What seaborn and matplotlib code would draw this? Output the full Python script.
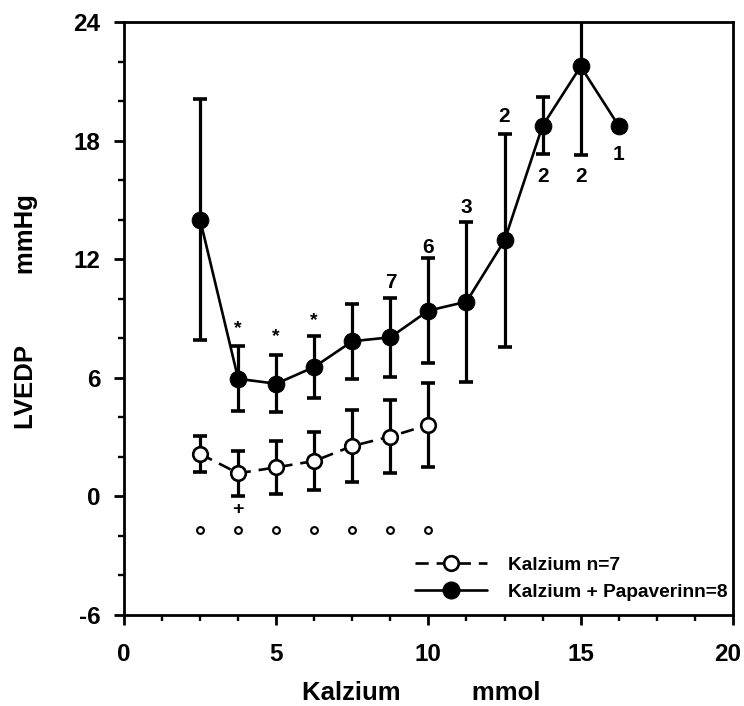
import numpy as np
import pandas as pd
import seaborn as sns
import matplotlib
matplotlib.use("Agg")
import matplotlib.pyplot as plt
import matplotlib.transforms as mtransforms
from matplotlib.lines import Line2D
from matplotlib import font_manager

# ---- data ----
x_kal = [2.5, 3.75, 5.0, 6.25, 7.5, 8.75, 10.0]
y_kal = [2.15, 1.17, 1.47, 1.79, 2.55, 3.03, 3.62]
sd_kal = [0.9, 1.15, 1.35, 1.45, 1.8, 1.87, 2.12]

x_pap = [2.5, 3.75, 5.0, 6.25, 7.5, 8.75, 10.0, 11.25, 12.5, 13.75, 15.0, 16.25]
y_pap = [14.0, 5.95, 5.7, 6.55, 7.85, 8.05, 9.4, 9.85, 12.95, 18.75, 21.75, 18.75]
sd_pap = [6.1, 1.65, 1.45, 1.55, 1.9, 2.0, 2.65, 4.05, 5.4, 1.45, 4.47, np.nan]

sig_x = [2.5, 3.75, 5.0, 6.25, 7.5, 8.75, 10.0]
sig_y = [-1.7] * 7
plus_x, plus_y = [3.75], [-0.68]
star_x = [3.75, 5.0, 6.25]
star_y = [8.5, 8.1, 8.9]
n_labels = ["7", "6", "3", "2", "2", "2", "1"]
n_x = [8.75, 10.0, 11.25, 12.5, 13.75, 15.0, 16.25]
n_y = [10.8, 12.6, 14.6, 19.2, 16.2, 16.2, 17.3]

legend_labels = ["Kalzium n=7", "Kalzium + Papaverinn=8"]
xticks = [0, 5, 10, 15, 20]
yticks = [-6, 0, 6, 12, 18, 24]

df_kal = pd.DataFrame({"x": x_kal, "y": y_kal, "sd": sd_kal})
df_pap = pd.DataFrame({"x": x_pap, "y": y_pap, "sd": sd_pap})

sns.set_theme(style="ticks")
fam = ["Liberation Sans", "DejaVu Sans"]
plt.rcParams["font.family"] = fam
plt.rcParams["font.weight"] = "bold"
plt.rcParams["axes.unicode_minus"] = False
plt.rcParams["text.color"] = "black"
plt.rcParams["axes.labelcolor"] = "black"

fig = plt.figure(figsize=(7.44, 7.06), dpi=100)
ax = fig.add_axes([0.1667, 0.1289, 0.8183, 0.8399])

lw = 1.9
dash = (0, (5.0, 3.0))
ax.errorbar(df_pap["x"], df_pap["y"], yerr=df_pap["sd"], fmt="none", ecolor="black",
            elinewidth=2.3, capsize=5, capthick=2.6, zorder=2)
ax.errorbar(df_kal["x"], df_kal["y"], yerr=df_kal["sd"], fmt="none", ecolor="black",
            elinewidth=2.3, capsize=5, capthick=2.6, zorder=2)

sns.lineplot(data=df_pap, x="x", y="y", ax=ax, color="black", lw=lw, marker="o",
             markersize=12, markerfacecolor="black", markeredgecolor="black", zorder=3)
sns.lineplot(data=df_kal, x="x", y="y", ax=ax, color="black", lw=lw, marker="o",
             markersize=10.5, markerfacecolor="white", markeredgecolor="black",
             markeredgewidth=1.9, linestyle=dash, zorder=3)

sns.scatterplot(x=sig_x, y=sig_y, ax=ax, s=24, facecolor="white", edgecolor="black",
                linewidth=1.5, zorder=3)
for xx, yy in zip(plus_x, plus_y):
    ax.text(xx, yy, "+", ha="center", va="center", fontsize=14, fontweight="bold")
for xx, yy in zip(star_x, star_y):
    ax.text(xx, yy, "*", ha="center", va="center", fontsize=14, fontweight="bold")
for t, xx, yy in zip(n_labels, n_x, n_y):
    ax.text(xx, yy, t, ha="center", va="center", fontsize=15, fontweight="bold")

ax.set_xlim(0, 20)
ax.set_ylim(-6, 24)
ax.set_xticks(xticks)
ax.set_yticks(yticks)
ax.set_xticks(np.arange(0, 20.01, 1.25), minor=True)
ax.set_yticks(np.arange(-6, 24.01, 2), minor=True)
ax.tick_params(axis="both", which="major", direction="out", length=7, width=2.0,
               labelsize=17.5, colors="black")
ax.tick_params(axis="x", which="major", pad=13)
ax.tick_params(axis="y", which="major", pad=10)
ax.tick_params(axis="both", which="minor", direction="out", length=4.5, width=1.7,
               colors="black")
for lab in ax.get_xticklabels() + ax.get_yticklabels():
    lab.set_fontweight("bold")
# keep the last x tick label inside the canvas
last = ax.get_xticklabels()[-1]
last.set_transform(last.get_transform() +
                   mtransforms.ScaledTranslation(-5 / 100, 0, fig.dpi_scale_trans))
for sp in ax.spines.values():
    sp.set_visible(True)
    sp.set_linewidth(2.0)
    sp.set_color("black")

ax.set_xlabel("Kalzium          mmol", fontsize=18.5, fontweight="bold", color="black")
ax.set_ylabel("LVEDP          mmHg", fontsize=18.5, fontweight="bold", color="black")
ax.xaxis.label.set_va("center")
ax.yaxis.label.set_va("center")
ax.xaxis.set_label_coords(0.488, -0.131)
ax.yaxis.set_label_coords(-0.161, 0.511)

handles = [
    Line2D([], [], color="black", lw=lw, linestyle=dash, marker="o",
           markersize=10.5, markerfacecolor="white", markeredgecolor="black", markeredgewidth=1.9),
    Line2D([], [], color="black", lw=lw, marker="o", markersize=12,
           markerfacecolor="black", markeredgecolor="black"),
]
lsize = 13.8
ax.legend(handles, legend_labels, loc="lower left", bbox_to_anchor=(0.478, 0.024),
          frameon=False, borderpad=0, borderaxespad=0, handlelength=72 / (lsize * 1.389),
          handletextpad=21 / (lsize * 1.389), labelspacing=0.5,
          prop={"family": fam, "weight": "bold", "size": lsize})

fig.savefig("out.png", dpi=100)
